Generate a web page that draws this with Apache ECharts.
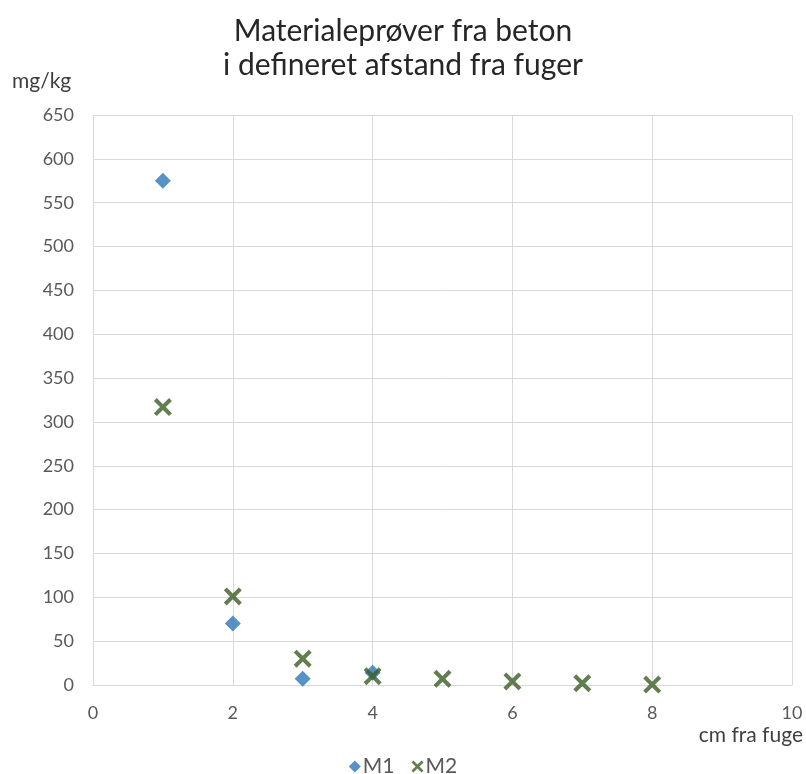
<!DOCTYPE html>
<html><head><meta charset="utf-8">
<script src="https://cdn.jsdelivr.net/npm/echarts@6/dist/echarts.min.js"></script>
<style>html,body{margin:0;padding:0;background:#fff}#c{width:806px;height:774px}</style>
</head><body><div id="c"></div>
<script>
var xM1 = [1, 2, 3, 4];
var yM1 = [575, 70, 7, 14];
var xM2 = [1, 2, 3, 4, 5, 6, 7, 8];
var yM2 = [317, 101, 30, 10, 7, 4, 2, 0.5];
var titleLines = ['Materialeprøver fra beton', 'i defineret afstand fra fuger'];
var yName = 'mg/kg', xName = 'cm fra fuge';

var font = 'Lato, "Open Sans", sans-serif';
var chart = echarts.init(document.getElementById('c'), null, {renderer: 'canvas'});
function pts(xs, ys){ return xs.map(function(x,i){return [x, ys[i]];}); }
var xPath = 'path://M0,1.6 L1.6,0 L5,3.4 L8.4,0 L10,1.6 L6.6,5 L10,8.4 L8.4,10 L5,6.6 L1.6,10 L0,8.4 L3.4,5 Z';
chart.setOption({
  animation: false,
  title: {
    text: titleLines.join('\n'), left: 'center', top: 9,
    textStyle: {fontFamily: font, fontSize: 30, fontWeight: 'normal', color: '#262626', lineHeight: 34}
  },
  grid: {left: 93, right: 14, top: 115, bottom: 89},
  xAxis: {
    type: 'value', min: 0, max: 10, interval: 2,
    axisLine: {show: true, lineStyle: {color: '#d9d9d9'}},
    axisTick: {show: false},
    splitLine: {show: true, lineStyle: {color: '#d9d9d9'}},
    axisLabel: {fontFamily: font, fontSize: 18, color: '#595959', margin: 19}
  },
  yAxis: {
    type: 'value', min: 0, max: 650, interval: 50,
    axisLine: {show: true, lineStyle: {color: '#d9d9d9'}},
    axisTick: {show: false},
    splitLine: {show: true, lineStyle: {color: '#d9d9d9'}},
    axisLabel: {fontFamily: font, fontSize: 18, color: '#595959', margin: 19}
  },
  graphic: [
    {type: 'text', left: 12, top: 71, style: {text: yName, font: '21px ' + font, fill: '#404040'}},
    {type: 'text', right: 3, top: 725, style: {text: xName, font: '21px ' + font, fill: '#404040'}}
  ],
  legend: {
    top: 751, left: 'center', itemGap: 17, itemWidth: 12, itemHeight: 12,
    textStyle: {fontFamily: font, fontSize: 21, color: '#595959', padding: [0,0,0,-3]},
    data: [
      {name: 'M1', icon: 'diamond', itemStyle: {color: '#2e75b6'}},
      {name: 'M2', icon: xPath, itemStyle: {color: '#3b5e26'}}
    ]
  },
  series: [
    {name: 'M1', type: 'scatter', data: pts(xM1, yM1), symbol: 'diamond', symbolSize: 16,
     itemStyle: {color: '#2e75b6'}, z: 2},
    {name: 'M2', type: 'scatter', data: pts(xM2, yM2), symbol: xPath, symbolSize: 18,
     itemStyle: {color: '#3b5e26'}, z: 3}
  ]
});
</script></body></html>
